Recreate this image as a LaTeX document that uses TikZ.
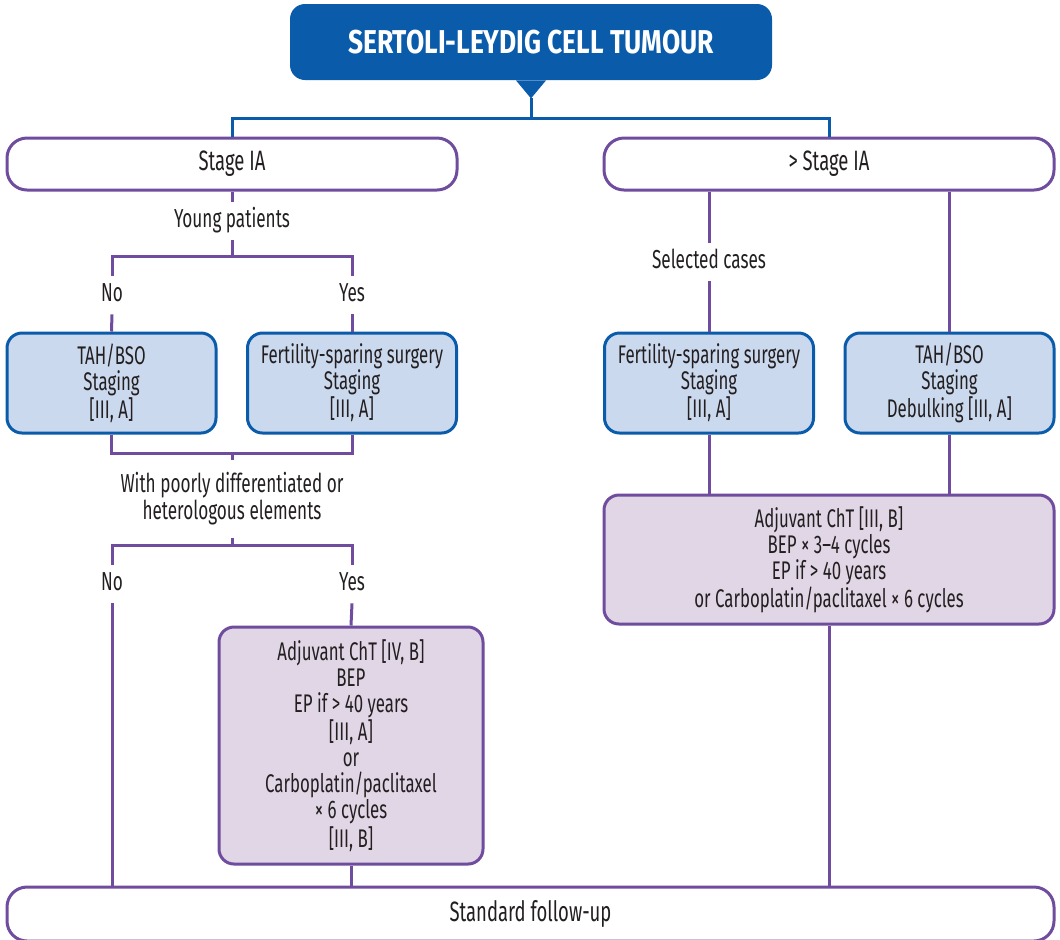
\documentclass[tikz,border=0pt]{standalone}
\usepackage{fontspec}
\setmainfont{Fira Sans}[FakeStretch=0.66]
\newfontfamily\figtitlefont{Fira Sans}[FakeStretch=0.8]
\usetikzlibrary{positioning,calc}
\definecolor{figblue}{HTML}{0A5CAA}
\definecolor{figpurple}{HTML}{6F4C9E}
\definecolor{figbluefill}{HTML}{CBD9EE}
\definecolor{figpurplefill}{HTML}{E1D6E6}
\definecolor{figtext}{HTML}{231F20}
\tikzset{
  figbox/.style={draw=figpurple, line width=1.5pt, rounded corners=10pt, align=center,
    fill=white, text=figtext, font=\fontsize{12.75}{13}\selectfont, inner sep=2pt},
  figstage/.style={figbox, font=\fontsize{14}{15}\selectfont, minimum width=225pt, minimum height=26pt},
  figsurg/.style={figbox, draw=figblue, fill=figbluefill, rounded corners=7.5pt,
    minimum width=104.5pt, minimum height=50pt},
  figcht/.style={figbox, fill=figpurplefill, rounded corners=7.5pt},
  figtitle/.style={fill=figblue, rounded corners=7.5pt, text=white,
    font=\figtitlefont\fontsize{16.5}{18}\selectfont\bfseries, minimum width=241pt, minimum height=38pt},
  figlabel/.style={font=\fontsize{13}{13.5}\selectfont, text=figtext, align=center, inner sep=4pt},
  figcue/.style={figlabel, text height=8.5pt, text depth=2.5pt},
  figline/.style={draw=figpurple, line width=1.5pt},
  figblueline/.style={draw=figblue, line width=1.5pt},
}

\begin{document}
\begin{tikzpicture}[x=0.5pt, y=-0.5pt]
  \useasboundingbox (0,0) rectangle (1060,939);
  % title and its pointer
  \node[figtitle] (title) at (531,42) {SERTOLI-LEYDIG CELL TUMOUR};
  \fill[figblue] ([xshift=-7.5pt]title.south) -- ([xshift=7.5pt]title.south)
    -- ([yshift=-9pt]title.south) coordinate (tip) -- cycle;
  \node[figstage] (stIA) at (232,164) {Stage IA};
  \node[figstage] (gtIA) at (829,164) {> Stage IA};
  \coordinate (split) at (531,118);
  \draw[figblueline] (tip) -- (split);
  \draw[figblueline] (stIA.north) |- (split) -| (gtIA.north);
  % stage IA branch
  \node[figcue] (young) at (232,221) {Young patients};
  \node[figcue] (no1) at (112,295) {No};
  \node[figcue] (yes1) at (352,295) {Yes};
  \node[figsurg] (tah1) at (111.5,383) {TAH/BSO\\Staging\\{[III, A]}};
  \node[figsurg] (fert1) at (352,383) {Fertility-sparing surgery\\Staging\\{[III, A]}};
  \coordinate (ysplit) at (232,256);
  \draw[figline] (stIA.south) -- (young.north);
  \draw[figline] (young.south) -- (ysplit);
  \draw[figline] (no1.north) |- (ysplit) -| (yes1.north);
  \draw[figline] (no1.south) -- (tah1.north);
  \draw[figline] (yes1.south) -- (fert1.north);
  % poorly differentiated
  \coordinate (wsplit) at (232,453);
  \node[figlabel, inner ysep=6pt] (poorly) at (232,499) {With poorly differentiated or\\heterologous elements};
  \coordinate (psplit) at (232,545);
  \node[figcue] (no2) at (112,584) {No};
  \node[figcue] (yes2) at (352,584) {Yes};
  \node[figcht, minimum width=132pt, minimum height=118.5pt] (cht1) at (351,745.5)
    {Adjuvant ChT [IV, B]\\BEP\\EP if > 40 years\\{[III, A]}\\or\\Carboplatin/paclitaxel\\× 6 cycles\\{[III, B]}};
  \draw[figline] (tah1.south) |- (wsplit) -| (fert1.south);
  \draw[figline] (wsplit) -- (poorly.north);
  \draw[figline] (poorly.south) -- (psplit);
  \draw[figline] (no2.north) |- (psplit) -| (yes2.north);
  \draw[figline] (yes2.south) -- (cht1.north);
  % > stage IA branch
  \node[figcue] (sel) at (709,262) {Selected cases};
  \node[figsurg] (fert2) at (709,383) {Fertility-sparing surgery\\Staging\\{[III, A]}};
  \node[figsurg] (tah2) at (949.5,383) {TAH/BSO\\Staging\\Debulking [III, A]};
  \node[figcht, minimum width=225pt, minimum height=64.5pt] (cht2) at (829,559.5)
    {Adjuvant ChT [III, B]\\BEP × 3–4 cycles\\EP if > 40 years\\or Carboplatin/paclitaxel × 6 cycles};
  \draw[figline] (fert2.north |- gtIA.south) -- (sel.north);
  \draw[figline] (sel.south) -- (fert2.north);
  \draw[figline] (tah2.north |- gtIA.south) -- (tah2.north);
  \draw[figline] (fert2.south) -- (fert2.south |- cht2.north);
  \draw[figline] (tah2.south) -- (tah2.south |- cht2.north);
  % follow-up
  \node[figstage, minimum width=523.5pt, minimum height=27pt] (fu) at (530.5,914) {Standard follow-up};
  \draw[figline] (no2.south) -- (no2.south |- fu.north);
  \draw[figline] (cht1.south) -- (cht1.south |- fu.north);
  \draw[figline] (cht2.south) -- (cht2.south |- fu.north);
\end{tikzpicture}
\end{document}
